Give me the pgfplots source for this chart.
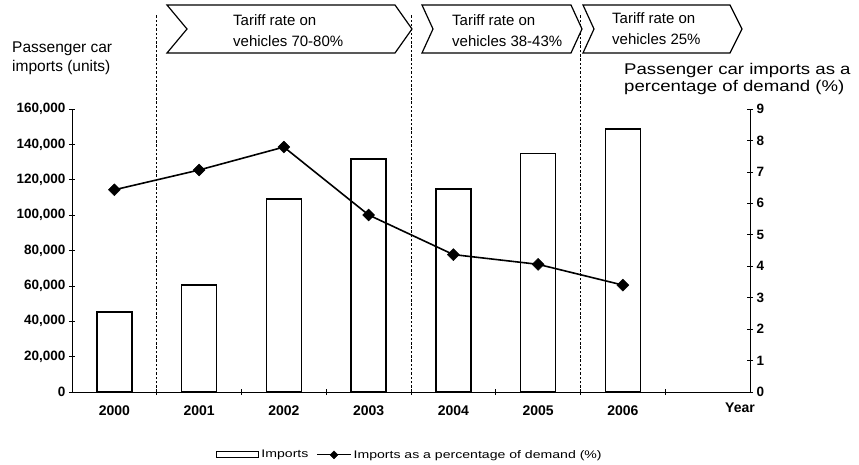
\documentclass[border=0pt]{standalone}
\usepackage{pgfplots}
\pgfplotsset{compat=1.18}
\usepackage{fontspec}
\setmainfont{Liberation Sans}
\pgfplotsset{
  barlegend/.style={legend image code/.code={\draw[##1] (0pt,-3pt) rectangle (42pt,3pt);}},
  linelegend/.style={legend image code/.code={\draw[mark repeat=2,mark phase=2,##1,line width=1.2pt,mark size=2.8pt] plot coordinates {(0pt,0pt) (17pt,0pt) (34pt,0pt)};}},
  common/.style={
    at={(0pt,0pt)}, anchor=south west,
    scale only axis, width=678pt, height=283pt,
    xmin=-0.5, xmax=7.5,
    clip=false,
    /pgf/number format/assume math mode=true,
    tick align=center,
    major tick length=6pt,
    tick style={black, line width=0.7pt},
    axis line style={black, line width=0.9pt},
    tick label style={font=\fontsize{13.5}{15}\selectfont\bfseries},
  }
}
\begin{document}
\begin{tikzpicture}[x=1pt,y=1pt]
\begin{axis}[common,
  ymin=0, ymax=160000,
  axis y line*=left, axis x line*=bottom,
  ytick={0,20000,...,160000},
  scaled y ticks=false,
  yticklabel style={/pgf/number format/.cd, fixed, 1000 sep={,}},
  xtick={0.5,1.5,...,6.5}, xticklabels={},
  extra x ticks={0,1,2,3,4,5,6},
  extra x tick labels={2000,2001,2002,2003,2004,2005,2006},
  extra x tick style={major tick length=0pt, tick label style={font=\fontsize{14}{15}\selectfont\bfseries, yshift=-10pt}},
]
\addplot[ybar, bar width=35pt, draw=black, line width=1.7pt, fill=white]
  coordinates {(0,45400) (1,60500) (2,109100) (3,131700) (4,114800) (5,134900) (6,148500)};
\end{axis}
\begin{axis}[common,
  ymin=0, ymax=9,
  axis y line*=right, axis x line=none,
  ytick={0,1,...,9},
  legend columns=2,
  legend style={at={(axis description cs:0.4985,-0.222)}, anchor=center, draw=none, fill=none,
    font=\fontsize{11}{13}\selectfont, inner sep=0pt,
    /tikz/every even column/.append style={column sep=6pt}},
]
\addlegendimage{draw=black, line width=1.2pt, fill=white, barlegend}
\addlegendentry{\scalebox{1.28}[1]{Imports}}
\addplot[black, line width=1.6pt, mark=square*, mark size=4.2pt,
  mark options={rotate=45, solid, line width=0.5pt}, linelegend]
  coordinates {(0,6.43) (1,7.06) (2,7.79) (3,5.63) (4,4.37) (5,4.06) (6,3.40)};
\addlegendentry{\scalebox{1.28}[1]{Imports as a percentage of demand (\%)}}
\end{axis}
% regime separators
\foreach \X in {84.75,339,508.5}
  \draw[black, line width=0.9pt, dash pattern=on 2.5pt off 1.8pt] (\X,0) -- (\X,378);
% chevrons
\def\ctop{387}\def\cmid{363}\def\cbot{339}
\draw[black, line width=1.2pt, fill=white] (95,\ctop) -- (323,\ctop) -- (340,\cmid) -- (323,\cbot) -- (95,\cbot) -- (115,\cmid) -- cycle;
\draw[black, line width=1.2pt, fill=white] (350,\ctop) -- (499,\ctop) -- (510,\cmid) -- (499,\cbot) -- (350,\cbot) -- (361,\cmid) -- cycle;
\draw[black, line width=1.2pt, fill=white] (511,\ctop) -- (658,\ctop) -- (670,\cmid) -- (658,\cbot) -- (511,\cbot) -- (522,\cmid) -- cycle;
\node[anchor=west, align=left, inner sep=0pt, font=\fontsize{15}{21}\selectfont] at (161,361) {Tariff rate on\\vehicles 70-80\%};
\node[anchor=west, align=left, inner sep=0pt, font=\fontsize{15}{21}\selectfont] at (380,361) {Tariff rate on\\vehicles 38-43\%};
\node[anchor=west, align=left, inner sep=0pt, font=\fontsize{15}{21}\selectfont] at (540,363) {Tariff rate on\\vehicles 25\%};
% axis titles
\node[anchor=west, align=left, inner sep=0pt, font=\fontsize{15.5}{19}\selectfont] at (-60,334) {Passenger car\\imports (units)};
\node[anchor=west, align=left, inner sep=0pt, font=\fontsize{15.5}{18}\selectfont] at (552,313) {\scalebox{1.2}[1]{Passenger car imports as a}\\\scalebox{1.2}[1]{percentage of demand (\%)}};
\node[anchor=east, inner sep=0pt, font=\fontsize{14}{15}\selectfont\bfseries] at (683,-16) {Year};
\pgfresetboundingbox
\useasboundingbox (-72,-73) rectangle (787,392);
\end{tikzpicture}
\end{document}
